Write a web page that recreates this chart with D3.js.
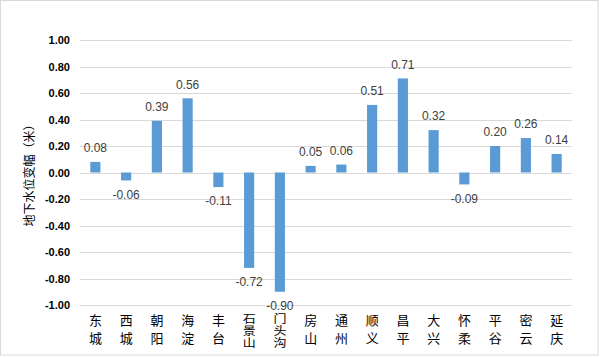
<!DOCTYPE html>
<html><head><meta charset="utf-8">
<script src="https://cdn.jsdelivr.net/npm/d3@7/dist/d3.min.js"></script>
<style>body{margin:0;background:#fff}</style>
</head><body>
<svg id="c" width="600" height="358"></svg>
<script>
const categories = ["东城","西城","朝阳","海淀","丰台","石景山","门头沟","房山","通州","顺义","昌平","大兴","怀柔","平谷","密云","延庆"];
const values = [0.08,-0.06,0.39,0.56,-0.11,-0.72,-0.90,0.05,0.06,0.51,0.71,0.32,-0.09,0.20,0.26,0.14];
const yTicks = [1.0,0.8,0.6,0.4,0.2,0.0,-0.2,-0.4,-0.6,-0.8,-1.0];
const yTitle = "地下水位变幅（米）";

const fmt = d => d3.format(".2f")(d).replace("\u2212","-");

const svg = d3.select("#c");
svg.append("rect").attr("x",0.5).attr("y",0.5).attr("width",597.5).attr("height",354.5)
  .attr("fill","#fff").attr("stroke","#d9d9d9");

const x = d3.scaleBand().domain(categories).range([80,572]).paddingInner(0.67).paddingOuter(0.335);
const y = d3.scaleLinear().domain([-1,1]).range([305,40]);

const g = svg.append("g");
g.selectAll(".grid").data(yTicks).join("line")
  .attr("x1",80).attr("x2",572)
  .attr("y1",d=>Math.round(y(d))+0.5).attr("y2",d=>Math.round(y(d))+0.5)
  .attr("stroke","#d9d9d9").attr("stroke-width",1);

const yAxis = d3.axisLeft(y).tickValues(yTicks).tickFormat(fmt).tickSize(0).tickPadding(10);
const ya = svg.append("g").attr("transform","translate(80,0)").call(yAxis);
ya.select(".domain").remove();
ya.selectAll("text").attr("font-family","Liberation Sans, Arial, sans-serif")
  .attr("font-size",11).attr("font-weight","bold").attr("fill","#000");

g.selectAll(".bar").data(values).join("rect")
  .attr("x",(d,i)=>x(categories[i]))
  .attr("width",x.bandwidth())
  .attr("y",d=>Math.min(y(d),y(0)))
  .attr("height",d=>Math.abs(y(d)-y(0)))
  .attr("fill","#5b9bd5");

g.selectAll(".lbl").data(values).join("text")
  .attr("x",(d,i)=>x(categories[i])+x.bandwidth()/2)
  .attr("y",d=> d>=0 ? y(d)-14 : y(d)+14)
  .attr("dy","0.35em")
  .attr("text-anchor","middle")
  .attr("font-family","Liberation Sans, Arial, sans-serif")
  .attr("font-size",12).attr("fill","#404040")
  .text(d=>fmt(d));

const cl = svg.append("g");
categories.forEach((c,i)=>{
  const cx = x(c)+x.bandwidth()/2;
  const chars = Array.from(c);
  const three = chars.length > 2;
  chars.forEach((ch,j)=>{
    const cy = three ? 318 + j*12 : 319 + j*18.5;
    cl.append("text")
      .attr("transform", `translate(${cx},${cy}) scale(1,${three?0.85:1})`)
      .attr("text-anchor","middle").attr("dominant-baseline","central")
      .attr("font-family","Noto Sans CJK SC, sans-serif").attr("font-size",13).attr("fill","#000")
      .text(ch);
  });
});

svg.append("text").attr("transform","translate(30,"+y(0)+") rotate(-90)")
  .attr("text-anchor","middle").attr("dy","0.35em")
  .attr("font-family","Noto Sans CJK SC, sans-serif").attr("font-size",12).attr("fill","#000")
  .text(yTitle);
</script>
</body></html>
